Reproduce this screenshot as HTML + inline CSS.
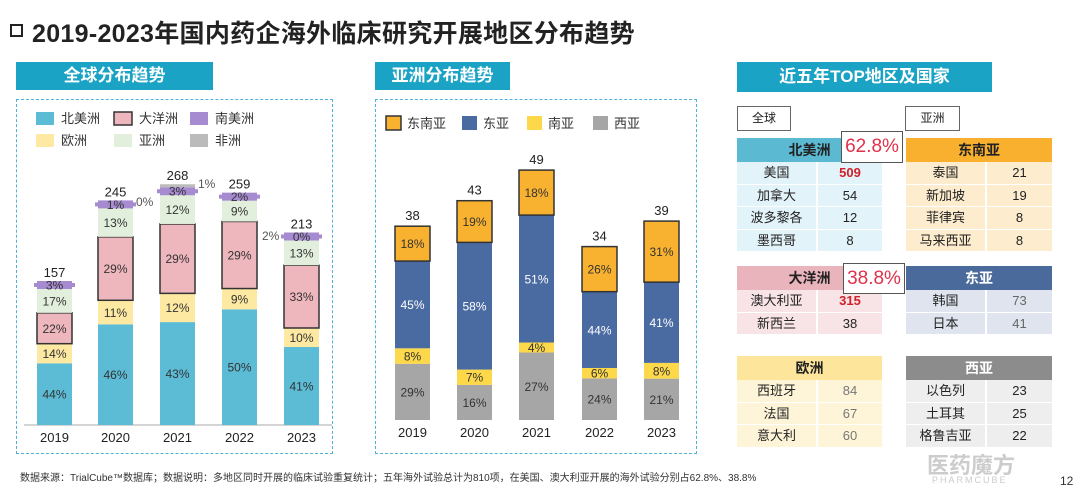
<!DOCTYPE html>
<html><head><meta charset="utf-8">
<style>
*{margin:0;padding:0;box-sizing:border-box}
body{width:1080px;height:493px;background:#fff;position:relative;overflow:hidden;font-family:"Liberation Sans","Noto Sans CJK SC",sans-serif;color:#222}
.a{position:absolute}
.hdr{position:absolute;background:#1aa3c4;color:#fff;font-weight:bold;font-size:17px;text-align:center;line-height:28px}
.dash{position:absolute;border:1.5px dashed #4fb3d9}
.tb{position:absolute;font-size:13px}
.th{font-weight:bold;font-size:14px;text-align:center;height:24px;line-height:24px}
.row{display:flex;height:22.5px;line-height:22.5px;border-bottom:1px solid #fff;text-align:center}
.row div:first-child{width:81px;border-right:2px solid #fff}
.row div:last-child{flex:1}
.call{position:absolute;background:#fff;border:1.5px solid #555;color:#e0304a;font-size:19px;text-align:center;line-height:29px}
.lab{position:absolute;border:1px solid #666;font-size:12px;text-align:center;line-height:23px;background:#fff}
</style></head><body>
<div class="a" style="left:10px;top:24px;width:13px;height:13px;border:2.5px solid #222"></div>
<div class="a" style="left:32px;top:14px;font-size:25px;font-weight:bold;color:#222;letter-spacing:0.3px">2019-2023年国内药企海外临床研究开展地区分布趋势</div>
<div class="hdr" style="left:16px;top:62px;width:197px">全球分布趋势</div>
<div class="hdr" style="left:375px;top:62px;width:135px">亚洲分布趋势</div>
<div class="hdr" style="left:737px;top:62px;width:255px;line-height:30px">近五年TOP地区及国家</div>
<div class="dash" style="left:16px;top:99px;width:317px;height:355px"></div>
<div class="dash" style="left:375px;top:99px;width:322px;height:355px"></div>
<svg class="a" style="left:0;top:0" width="1080" height="493" id="sv" font-family="Liberation Sans, Noto Sans CJK SC, sans-serif"></svg>

<div class="lab" style="left:737px;top:106px;width:54px">全球</div>
<div class="lab" style="left:905px;top:106px;width:55px">亚洲</div>

<div class="tb" style="left:737px;top:138px;width:145px">
<div class="th" style="background:#5bbad2">北美洲</div>
<div style="background:#e3f3fa">
<div class="row"><div>美国</div><div style="color:#d0202a;font-weight:bold">509</div></div>
<div class="row"><div>加拿大</div><div>54</div></div>
<div class="row"><div>波多黎各</div><div>12</div></div>
<div class="row"><div>墨西哥</div><div>8</div></div></div></div>
<div class="call" style="left:841px;top:131px;width:62px;height:32px">62.8%</div>

<div class="tb" style="left:906px;top:138px;width:146px">
<div class="th" style="background:#f8b02e">东南亚</div>
<div style="background:#fdeccd">
<div class="row"><div>泰国</div><div>21</div></div>
<div class="row"><div>新加坡</div><div>19</div></div>
<div class="row"><div>菲律宾</div><div>8</div></div>
<div class="row"><div>马来西亚</div><div>8</div></div></div></div>

<div class="tb" style="left:737px;top:266px;width:145px">
<div class="th" style="background:#eab4bc">大洋洲</div>
<div style="background:#f8e4e7">
<div class="row"><div>澳大利亚</div><div style="color:#d0202a;font-weight:bold">315</div></div>
<div class="row"><div>新西兰</div><div>38</div></div></div></div>
<div class="call" style="left:843px;top:263px;width:62px;height:31px">38.8%</div>

<div class="tb" style="left:906px;top:266px;width:146px">
<div class="th" style="background:#4a6a9c;color:#fff">东亚</div>
<div style="background:#dfe4ee">
<div class="row"><div>韩国</div><div style="color:#666">73</div></div>
<div class="row"><div>日本</div><div style="color:#666">41</div></div></div></div>

<div class="tb" style="left:737px;top:356px;width:145px">
<div class="th" style="background:#fde59c">欧洲</div>
<div style="background:#fef5d8">
<div class="row"><div>西班牙</div><div style="color:#777">84</div></div>
<div class="row"><div>法国</div><div style="color:#777">67</div></div>
<div class="row"><div>意大利</div><div style="color:#777">60</div></div></div></div>

<div class="tb" style="left:906px;top:356px;width:146px">
<div class="th" style="background:#8c8c8c;color:#fff">西亚</div>
<div style="background:#eeeeee">
<div class="row"><div>以色列</div><div>23</div></div>
<div class="row"><div>土耳其</div><div>25</div></div>
<div class="row"><div>格鲁吉亚</div><div>22</div></div></div></div>

<div class="a" style="left:20px;top:469px;font-size:10px;color:#333">数据来源：TrialCube™数据库；数据说明：多地区同时开展的临床试验重复统计；五年海外试验总计为810项，在美国、澳大利亚开展的海外试验分别占62.8%、38.8%</div>
<div class="a" style="left:927px;top:448px;font-size:22px;color:#ccc;font-weight:bold">医药魔方</div>
<div class="a" style="left:932px;top:475px;font-size:9px;color:#ccc;letter-spacing:2px">PHARMCUBE</div>
<div class="a" style="left:1060px;top:474px;font-size:12px;color:#333">12</div>

<script>
var s='';
function R(x,y,w,h,f,st){s+='<rect x="'+x+'" y="'+y+'" width="'+w+'" height="'+h+'" fill="'+f+'"'+(st?' stroke="#333" stroke-width="1.5"':'')+'/>';}
function T(x,y,t,sz,c,a){s+='<text x="'+x+'" y="'+y+'" font-size="'+(sz||12)+'" fill="'+(c||'#333')+'" text-anchor="'+(a||'middle')+'">'+t+'</text>';}
var cols=['#5cbcd6','#fde9a2','#eeb6bd','#e2efdc','#a68bd0','#bbbbbb'];
var L=[[157,[44,14,22,17,3,0]],[245,[46,11,29,13,1,0]],[268,[43,12,29,12,3,1]],[259,[50,9,29,9,2,0]],[213,[41,10,33,13,2,0]]];
var xs=[37,98,160,222,284],yrs=['2019','2020','2021','2022','2023'],base=425,k=0.893;
s+='<line x1="24" y1="425" x2="332" y2="425" stroke="#aaa"/>';
L.forEach(function(d,i){var y=base,x=xs[i];
 d[1].forEach(function(p,j){var h=d[0]*k*p/100;if(j==4)h=8;if(j==5)h=(i==2?3:0);y-=h;if(h<=0)return;
  if(j==4){R(x-3,y+2,41,4,cols[j]);}
  R(x,y,35,h,cols[j],j==2);
  if(j<4)T(x+17.5,y+h/2+4.5,p+'%',12,'#333');
 });
 var py=base-d[0]*k*(d[1][0]+d[1][1]+d[1][2]+d[1][3])/100-4;
 T(x+17.5,py+4.5,(i==4?'0%':d[1][4]+'%'),12,'#333');
 T(x+17.5,y-4,d[0],13,'#222');T(x+17.5,442,yrs[i],13,'#222');});
T(136,206,'0%',12,'#555','start');T(198,188,'1%',12,'#555','start');T(262,240,'2%',12,'#555','start');
var lg=[['北美洲',36,112,0],['大洋洲',114,112,2],['南美洲',190,112,4],['欧洲',36,134,1],['亚洲',114,134,3],['非洲',190,134,5]];
lg.forEach(function(l){R(l[1],l[2],18,13,cols[l[3]],l[3]==2);T(l[1]+25,l[2]+11,l[0],13,'#333','start');});
var c2=['#a6a6a6','#fcd84a','#4a6aa2','#f8b22f'];
var M=[[38,[29,8,45,18]],[43,[16,7,58,19]],[49,[27,4,51,18]],[34,[24,6,44,26]],[39,[21,8,41,31]]];
var xm=[395,457,519,582,644],b2=420,k2=5.1;
M.forEach(function(d,i){var y=b2,x=xm[i];var sum=d[1].reduce(function(a,b){return a+b},0);
 d[1].forEach(function(p,j){var h=d[0]*k2*p/sum;y-=h;R(x,y,35,h,c2[j],j==3);
  T(x+17.5,y+h/2+4.5,p+'%',12,j==2?'#fff':'#333');});
 T(x+17.5,y-6,d[0],13,'#222');T(x+17.5,437,yrs[i],13,'#222');});
var lg2=[['东南亚',386,3],['东亚',462,2],['南亚',527,1],['西亚',593,0]];
lg2.forEach(function(l){R(l[1],116,15,14,c2[l[2]],l[2]==3);T(l[1]+21,128,l[0],13,'#333','start');});
document.getElementById('sv').innerHTML=s;
</script>
</body></html>
